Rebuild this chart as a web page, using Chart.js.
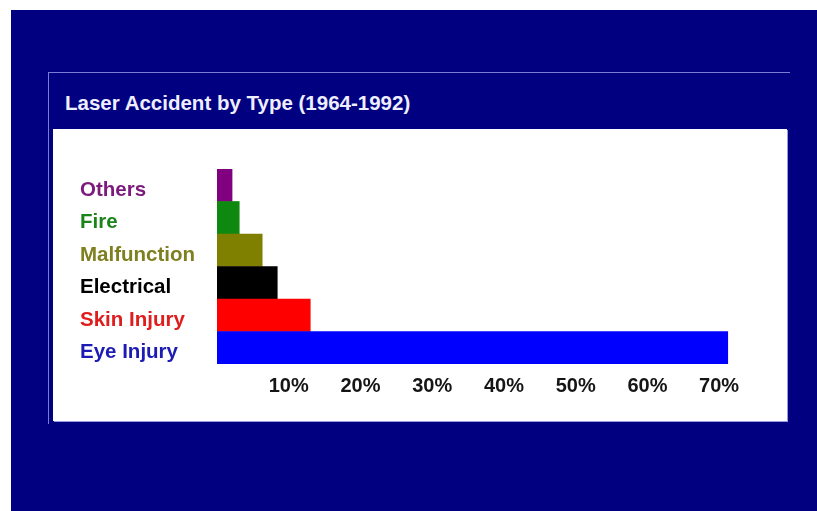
<!DOCTYPE html>
<html>
<head>
<meta charset="utf-8">
<script src="https://cdn.jsdelivr.net/npm/chart.js@4"></script>
<style>
  body { margin: 0; background: #fff; width: 817px; height: 511px; position: relative; overflow: hidden; font-family: "Liberation Sans", Arial, sans-serif; }
  #bg { position: absolute; left: 11px; top: 10px; width: 806px; height: 501px; background: #000080; }
  #frame { position: absolute; left: 48px; top: 72px; width: 741px; height: 351px; border-top: 1px solid #7c7cd4; border-left: 1px solid #7c7cd4; }
  #title { position: absolute; left: 65px; top: 91px; font-size: 20.5px; font-weight: bold; color: #eeeeff; }
  #panel { position: absolute; left: 53px; top: 129px; width: 734px; height: 292px; background: #fff; box-shadow: 1px 1px 0 #9a9ae0; }
</style>
</head>
<body>
<div id="bg"></div>
<div id="frame"></div>
<div id="title">Laser Accident by Type (1964-1992)</div>
<div id="panel"><canvas id="accidentChart" width="734" height="292"></canvas></div>
<script>
// values (percent of accidents)
var categories = ['Others', 'Fire', 'Malfunction', 'Electrical', 'Skin Injury', 'Eye Injury'];
var percentages = [2.1, 3.1, 6.3, 8.4, 13.0, 71.2];
var barColors = ['#800080', '#0f880f', '#808000', '#000000', '#ff0000', '#0000ff'];
var labelColors = ['#7d1a7d', '#1a841a', '#7f7f20', '#000000', '#e01c1c', '#1c1cb4'];
var tickValues = [10, 20, 30, 40, 50, 60, 70];

document.addEventListener('DOMContentLoaded', function () {
    var ctx = document.getElementById('accidentChart').getContext('2d');
    new Chart(ctx, {
        type: 'bar',
        data: {
            labels: categories,
            datasets: [{
                data: percentages,
                backgroundColor: barColors,
                barPercentage: 1,
                categoryPercentage: 1,
                borderWidth: 0
            }]
        },
        options: {
            indexAxis: 'y',
            responsive: false,
            animation: false,
            layout: { padding: { left: 27, top: 40, right: 32, bottom: 0 } },
            plugins: { legend: { display: false }, tooltip: { enabled: false } },
            scales: {
                x: {
                    min: 0,
                    max: 75,
                    grid: { display: false },
                    border: { display: false },
                    ticks: {
                        stepSize: 10,
                        padding: 2,
                        color: '#151515',
                        font: { family: '"Liberation Sans", Arial, sans-serif', size: 20, weight: 'bold' },
                        callback: function (v) { return tickValues.indexOf(v) >= 0 ? v + '%' : ''; }
                    },
                    afterFit: function (scale) { scale.height = 57; }
                },
                y: {
                    grid: { display: false },
                    border: { display: false },
                    ticks: {
                        crossAlign: 'far',
                        padding: 0,
                        labelOffset: 5,
                        color: function (c) { return labelColors[c.index]; },
                        font: { family: '"Liberation Sans", Arial, sans-serif', size: 20.5, weight: 'bold' }
                    },
                    afterFit: function (scale) { scale.width = 137; }
                }
            }
        }
    });
});
</script>
</body>
</html>
